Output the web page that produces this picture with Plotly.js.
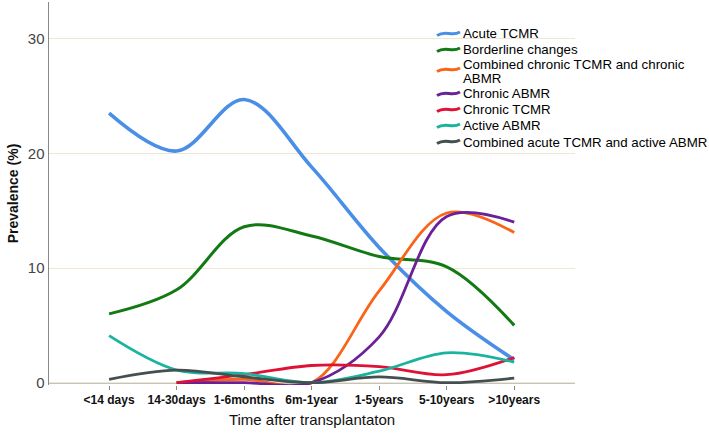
<!DOCTYPE html>
<html>
<head>
<meta charset="utf-8">
<script src="https://cdn.plot.ly/plotly-3.0.1.min.js"></script>
<style>html,body{margin:0;padding:0;background:#fff;}#chart{width:709px;height:438px;}</style>
</head>
<body>
<div id="chart"></div>
<script>
const categories = ["<14 days", "14-30days", "1-6months", "6m-1year", "1-5years", "5-10years", ">10years"];
const acuteTCMR = [23.5, 20.2, 24.7, 18.8, 11.8, 6.2, 2.0];
const borderline = [6.0, 8.1, 13.6, 12.8, 11.0, 10.1, 5.0];
const combinedChronic = [null, 0, 0.3, 0, 8.0, 14.8, 13.1];
const chronicABMR = [null, 0, 0, 0, 4.0, 14.5, 14.0];
const chronicTCMR = [null, 0, 0.7, 1.5, 1.4, 0.7, 2.2];
const activeABMR = [4.1, 1.1, 0.8, 0, 1.0, 2.6, 1.8];
const combinedAcute = [0.3, 1.1, 0.5, 0, 0.5, 0, 0.4];
const seriesNames = ["Acute TCMR", "Borderline changes", "Combined chronic TCMR and chronic<br>ABMR",
  "Chronic ABMR", "Chronic TCMR", "Active ABMR", "Combined acute TCMR and active ABMR"];
const yTicks = [0, 10, 20, 30];

const seriesValues = [acuteTCMR, borderline, combinedChronic, chronicABMR, chronicTCMR, activeABMR, combinedAcute];
const colors = ["#4a8fe7", "#137a13", "#fa6419", "#6a2197", "#de1235", "#19b3a0", "#454f4f"];
const widths = [3.6, 3, 2.8, 2.8, 2.8, 2.8, 2.8];

const traces = seriesValues.map((v, i) => ({
  type: "scatter", mode: "lines", x: categories, y: v, name: seriesNames[i],
  line: {color: colors[i], width: widths[i], shape: "spline", smoothing: 1},
  connectgaps: false, hoverinfo: "skip", showlegend: false
}));

// plot area in pixels
const W = 709, H = 438, L = 49, R = 134, T = 2, B = 53;
const pw = W - L - R, ph = H - T - B;
const px = x => (x - L) / pw;
const py = y => (H - B - y) / ph;

// manual legend (SPSS style, compact spacing)
const legendRows = [34, 50, 64, 94, 110, 126, 142];
const annotations = [];
const shapes = [{type: "line", xref: "paper", x0: 0, x1: 1, yref: "y", y0: 0, y1: 0,
                 line: {color: "#888", width: 1.5}, layer: "below"}];
seriesNames.forEach((name, i) => {
  const lines = name.split("<br>");
  const y0 = legendRows[i];
  lines.forEach((t, k) => {
    annotations.push({xref: "paper", yref: "paper", x: px(462), y: py(y0 + k * 14),
      xanchor: "left", yanchor: "middle", showarrow: false, text: t,
      font: {size: 13.3, color: "#000"}, borderpad: 0});
  });
  const sy = lines.length > 1 ? y0 + 6 : y0;
  const p = (x, y) => px(x) + "," + py(y);
  shapes.push({type: "path", xref: "paper", yref: "paper",
    path: "M" + p(437, sy + 1.5) + " C" + p(446, sy - 4.5) + " " + p(451, sy + 3) + " " + p(460, sy - 2),
    line: {color: colors[i], width: 3}});
});

const layout = {
  width: W, height: H,
  margin: {l: L, r: R, t: T, b: B},
  paper_bgcolor: "#fff", plot_bgcolor: "#fff",
  font: {family: "Liberation Sans, Arial, sans-serif", color: "#000"},
  showlegend: false,
  xaxis: {
    type: "category", range: [-0.89, 6.9], showgrid: false, zeroline: false,
    showline: false, ticks: "outside", ticklen: 4, tickcolor: "#888",
    tickfont: {family: "Liberation Sans, Arial, sans-serif", size: 12, color: "#111", weight: "bold"},
    title: {text: "Time after transplantaton", font: {size: 15, color: "#111"}, standoff: 8}
  },
  yaxis: {
    range: [-0.2, 33.2], tickvals: yTicks, ticktext: yTicks.map(String),
    showgrid: true, gridcolor: "#efe7cf", gridwidth: 1, zeroline: false,
    showline: true, linecolor: "#888", linewidth: 1.5, ticks: "",
    tickfont: {size: 15, color: "#444"},
    title: {text: "Prevalence (%)", font: {size: 14, color: "#111", weight: "bold"}, standoff: 6}
  },
  shapes: shapes,
  annotations: annotations
};
Plotly.newPlot("chart", traces, layout, {displayModeBar: false, staticPlot: true});
</script>
</body>
</html>
